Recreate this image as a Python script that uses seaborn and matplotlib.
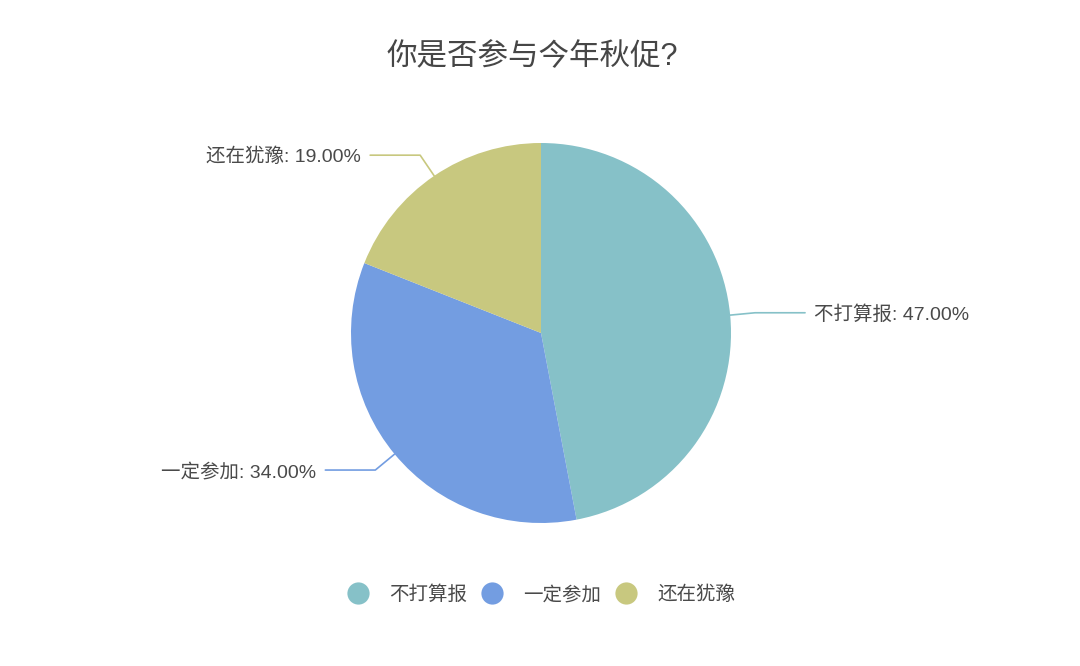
import numpy as np
import seaborn as sns
import matplotlib.pyplot as plt
from matplotlib.lines import Line2D

# data
labels = ['不打算报', '一定参加', '还在犹豫']
values = [47, 34, 19]
colors = ['#86c1c8', '#739de1', '#c8c87f']

sns.set_theme(style='white')
plt.rcParams['font.family'] = ['Liberation Sans', 'Noto Sans CJK SC', 'DejaVu Sans']

W, H = 1080, 666
fig = plt.figure(figsize=(W / 100, H / 100), dpi=100)
ax = fig.add_axes([0, 0, 1, 1])

cx, cy, r = 541, H - 333, 190
wedges, _ = ax.pie(values, colors=colors, startangle=90, counterclock=False,
                   center=(cx, cy), radius=r, frame=True,
                   wedgeprops=dict(linewidth=0))
ax.set_xlim(0, W)
ax.set_ylim(0, H)
ax.set_aspect('equal')
ax.axis('off')

total = sum(values)
for w, lab, v, c in zip(wedges, labels, values, colors):
    mid = np.deg2rad((w.theta1 + w.theta2) / 2)
    x0, y0 = cx + r * np.cos(mid), cy + r * np.sin(mid)
    x1, y1 = cx + (r + 25) * np.cos(mid), cy + (r + 25) * np.sin(mid)
    side = 1 if np.cos(mid) >= 0 else -1
    x2 = x1 + side * 50
    ax.plot([x0, x1, x2], [y0, y1, y1], color=c, lw=1.2)
    ax.text(x2 + side * 9, y1 - 2, f'{lab}: {v / total * 100:.2f}%',
            ha='left' if side > 0 else 'right', va='center',
            fontsize=14, color='#4a4a4a')

ax.text(532, H - 57, '你是否参与今年秋促?', ha='center', va='center',
        fontsize=22, color='#464646')

handles = [Line2D([], [], marker='o', ls='', markersize=16,
                  markerfacecolor=c, markeredgecolor='none') for c in colors]
fig.legend(handles, labels, loc='center', bbox_to_anchor=(0.497, 1 - 595 / H),
           ncol=3, frameon=False, fontsize=14, labelcolor='#4a4a4a',
           handletextpad=0.6, columnspacing=0.3)

fig.savefig('out.png', dpi=100, facecolor='white')
